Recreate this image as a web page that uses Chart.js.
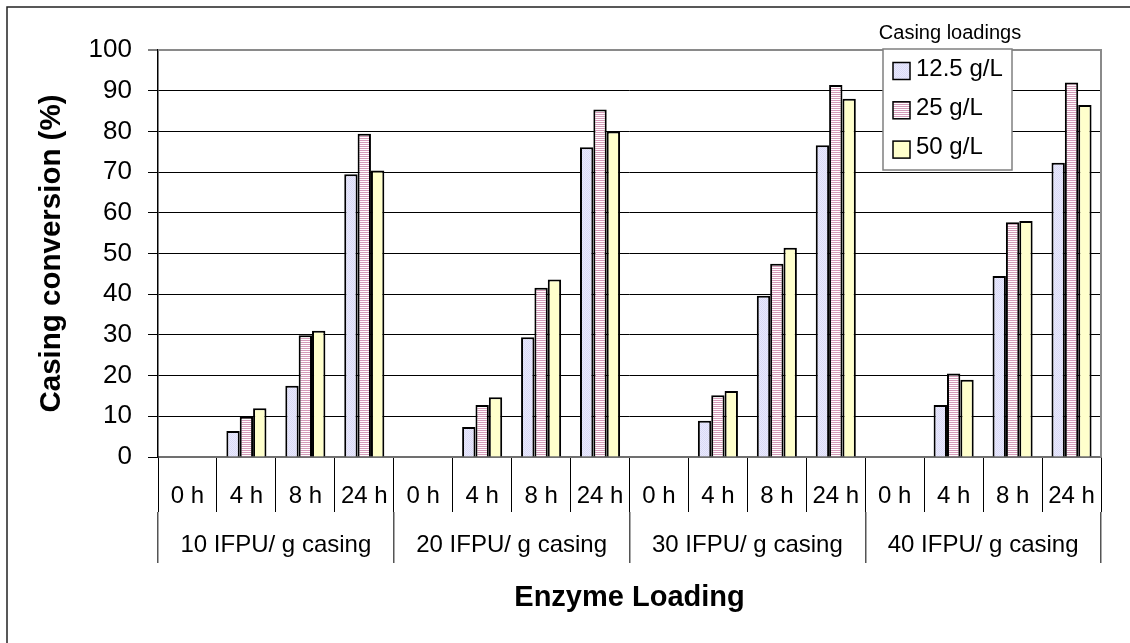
<!DOCTYPE html>
<html><head><meta charset="utf-8">
<script src="https://cdn.jsdelivr.net/npm/chart.js@4.4.0/dist/chart.umd.min.js"></script>
<style>html,body{margin:0;padding:0;background:#fff}canvas{display:block}</style>
</head><body>
<canvas id="c" width="1130" height="643"></canvas>
<script>
// ---- data ----
const timePoints = ['0 h', '4 h', '8 h', '24 h'];
const enzymeLoadings = ['10 IFPU/ g casing', '20 IFPU/ g casing', '30 IFPU/ g casing', '40 IFPU/ g casing'];
const seriesNames = ['12.5 g/L', '25 g/L', '50 g/L'];
const conv12_5 = [0, 6.4, 17.5, 69.5, 0, 7.4, 29.4, 76.1, 0, 8.9, 39.6, 76.6, 0, 12.8, 44.5, 72.3];
const conv25   = [0, 9.9, 29.9, 79.4, 0, 12.8, 41.6, 85.4, 0, 15.2, 47.5, 91.4, 0, 20.5, 57.7, 92.0];
const conv50   = [0, 12.0, 31.0, 70.4, 0, 14.7, 43.6, 80.0, 0, 16.2, 51.4, 88.0, 0, 19.0, 58.0, 86.5];
const yMin = 0, yMax = 100, yStep = 10;
const legendTitle = 'Casing loadings';
const yTitle = 'Casing conversion (%)';
const xTitle = 'Enzyme Loading';

const categories = enzymeLoadings.flatMap(() => timePoints);
const FONT = "'Liberation Sans', Arial, sans-serif";

const canvas = document.getElementById('c');
const mainCtx = canvas.getContext('2d');
function makePattern(w, h, draw) {
  const c = document.createElement('canvas'); c.width = w; c.height = h;
  const x = c.getContext('2d'); draw(x);
  return mainCtx.createPattern(c, 'repeat');
}
const bluePat = makePattern(2, 2, x => {
  x.fillStyle = '#E9E9FD'; x.fillRect(0, 0, 2, 2);
  x.fillStyle = '#DADAF6'; x.fillRect(0, 0, 1, 1); x.fillRect(1, 1, 1, 1);
});
const pinkPat = makePattern(2, 2, x => {
  x.fillStyle = '#FFFFFF'; x.fillRect(0, 0, 2, 2);
  x.fillStyle = '#D49AB8'; x.fillRect(0, 0, 2, 1);
});
const yellowFill = '#FFFFCC';

const frame = {
  id: 'frame',
  beforeDraw(chart) {
    const ctx = chart.ctx;
    ctx.save();
    ctx.fillStyle = '#fff'; ctx.fillRect(0, 0, chart.width, chart.height);
    ctx.strokeStyle = '#222'; ctx.lineWidth = 1.5;
    ctx.beginPath(); ctx.moveTo(7, chart.height); ctx.lineTo(7, 7); ctx.lineTo(chart.width, 7); ctx.stroke();
    ctx.restore();
  },
  beforeDatasetsDraw(chart) {
    const ctx = chart.ctx, a = chart.chartArea;
    ctx.save();
    ctx.strokeStyle = '#8a8a8a'; ctx.lineWidth = 2;
    ctx.beginPath(); ctx.moveTo(a.left, a.top); ctx.lineTo(a.right, a.top); ctx.lineTo(a.right, a.bottom); ctx.stroke();
    ctx.restore();
  },
  afterDraw(chart) {
    const ctx = chart.ctx, a = chart.chartArea;
    const bx = a.right - 218, by = a.top - 1, bw = 129, bh = 121;
    ctx.save();
    ctx.fillStyle = '#000'; ctx.font = '20px ' + FONT;
    ctx.textAlign = 'center'; ctx.textBaseline = 'alphabetic';
    ctx.fillText(legendTitle, bx + 67, by - 10);
    ctx.fillStyle = '#fff'; ctx.fillRect(bx, by, bw, bh);
    ctx.strokeStyle = '#808080'; ctx.lineWidth = 1.5; ctx.strokeRect(bx, by, bw, bh);
    chart.data.datasets.forEach((ds, i) => {
      const cy = by + 22 + i * 39.3;
      ctx.fillStyle = ds.backgroundColor; ctx.fillRect(bx + 10, cy - 8.5, 17, 17);
      ctx.strokeStyle = '#000'; ctx.lineWidth = 1.5; ctx.strokeRect(bx + 10, cy - 8.5, 17, 17);
      ctx.fillStyle = '#000'; ctx.font = '24px ' + FONT;
      ctx.textAlign = 'left'; ctx.textBaseline = 'middle';
      ctx.fillText(ds.label, bx + 33, cy - 2);
    });
    ctx.restore();
  }
};

const series = [conv12_5, conv25, conv50];
const fills = [bluePat, pinkPat, yellowFill];

new Chart(canvas, {
  type: 'bar',
  data: {
    labels: categories,
    datasets: series.map((d, i) => ({
      label: seriesNames[i], data: d, xAxisID: 'x', yAxisID: 'y',
      backgroundColor: fills[i], borderColor: '#000', borderWidth: 2,
      categoryPercentage: 0.68, barPercentage: 1.0
    }))
  },
  options: {
    responsive: false, animation: false, devicePixelRatio: 1,
    layout: { padding: { left: 10, right: 29, top: 50, bottom: 21 } },
    plugins: { legend: { display: false }, tooltip: { enabled: false }, title: { display: false } },
    scales: {
      x: {
        type: 'category', position: 'bottom', weight: 0,
        grid: { drawOnChartArea: false, drawTicks: true, tickLength: 55, color: '#000', lineWidth: 1, offset: true },
        border: { display: true, color: '#707070', width: 2 },
        ticks: { padding: -30, font: { size: 24, family: FONT }, color: '#000', maxRotation: 0, autoSkip: false },
        afterFit(s) { s.height = 55; }
      },
      x2: {
        type: 'category', position: 'bottom', weight: 1, labels: enzymeLoadings,
        grid: { drawOnChartArea: false, drawTicks: true, tickLength: 51, color: '#555', lineWidth: 1.5, offset: true },
        border: { display: false },
        ticks: { padding: -32, font: { size: 24, family: FONT }, color: '#000', maxRotation: 0, autoSkip: false },
        title: { display: true, text: xTitle, color: '#000', font: { size: 29, weight: 'bold', family: FONT }, padding: { top: 0, bottom: 7 } },
        afterFit(s) { s.height = 110; }
      },
      y: {
        min: yMin, max: yMax,
        ticks: { stepSize: yStep, padding: 16, font: { size: 26, family: FONT }, color: '#000' },
        grid: {
          color: c => (c.tick && c.tick.value === yMax) ? '#8a8a8a' : '#000',
          lineWidth: c => (c.tick && c.tick.value === yMax) ? 2 : 1,
          tickColor: '#000', tickWidth: 1, tickLength: 10, drawTicks: true
        },
        border: { display: true, color: '#000', width: 1.5 },
        title: { display: true, text: yTitle, color: '#000', font: { size: 29.5, weight: 'bold', family: FONT }, padding: { top: 24, bottom: 0 } },
        afterFit(s) { s.width = 148; }
      }
    }
  },
  plugins: [frame]
});
</script>
</body></html>
